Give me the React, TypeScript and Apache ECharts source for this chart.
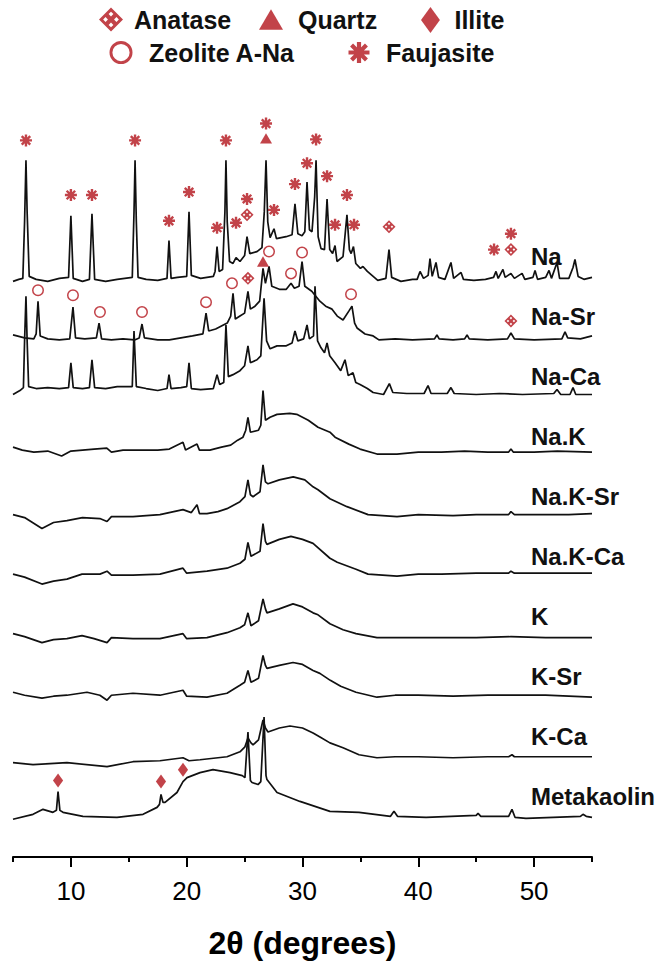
import React, { useEffect, useRef } from "react";
import * as echarts from "echarts";

// XRD patterns: [2θ (degrees), stacked intensity (a.u.)]
const NA = [
  [5.0,580],[5.5,582],[5.85,583],[6.0,640],[6.12,702],[6.22,650],[6.4,585],[7.0,582],[8.0,580],[9.0,583],[9.8,584],[10.0,646],[10.2,583],[11.0,580],[11.6,582],[11.82,648],[12.05,582],[13.0,580],[14.0,582],[15.3,584],[15.45,650],[15.54,702],[15.65,640],[15.8,584],[16.5,582],[17.5,581],[18.3,583],[18.47,621],[18.65,583],[19.2,584],[20.0,585],[20.2,650],[20.4,586],[21.2,583],[22.3,585],[22.45,590],[22.62,615],[22.8,590],[23.1,592],[23.3,650],[23.39,702],[23.5,640],[23.7,600],[24.0,598],[24.26,604],[24.6,600],[25.0,606],[25.21,625],[25.45,608],[26.07,610],[26.5,614],[26.7,650],[26.85,702],[27.0,640],[27.2,624],[27.54,633],[27.75,623],[28.58,625],[29.1,627],[29.35,658],[29.6,628],[29.96,626],[30.2,630],[30.39,680],[30.6,632],[30.82,630],[31.05,665],[31.17,702],[31.35,625],[31.6,613],[31.9,612],[32.12,663],[32.35,612],[32.6,608],[32.81,616],[32.98,600],[33.5,605],[33.84,647],[34.05,612],[34.2,608],[34.4,615],[34.6,598],[35.0,593],[35.22,595],[35.6,590],[36.5,581],[37.2,583],[37.47,612],[37.7,584],[38.5,580],[39.5,582],[39.9,582],[40.15,590],[40.45,583],[40.85,586],[41.01,603],[41.2,585],[41.53,599],[41.75,584],[42.3,582],[42.82,599],[43.05,583],[43.69,589],[43.9,582],[44.8,581],[45.8,582],[46.5,584],[46.71,590],[46.9,583],[47.31,592],[47.5,584],[48.0,588],[48.3,583],[48.96,588],[49.2,582],[49.9,584],[50.08,591],[50.3,582],[51.0,584],[51.29,591],[51.5,583],[51.98,599],[52.2,583],[53.0,583],[53.36,594],[53.53,602],[53.8,585],[54.3,582],[55.0,584]
];
const NA_SR = [
  [5.0,526],[6.0,523],[6.8,522],[7.0,527],[7.16,560],[7.35,525],[8.0,522],[9.0,521],[9.9,522],[10.18,554],[10.4,523],[11.2,522],[12.2,523],[12.43,538],[12.65,522],[13.5,521],[14.5,522],[15.5,521],[15.9,523],[16.14,537],[16.35,523],[17.5,521],[18.5,521],[19.5,523],[20.5,525],[21.4,527],[21.67,548],[21.9,530],[22.5,532],[23.0,535],[23.5,538],[23.8,545],[24.0,568],[24.2,542],[24.6,545],[25.0,548],[25.29,570],[25.5,552],[25.9,555],[26.3,560],[26.59,593],[26.8,578],[27.11,595],[27.35,575],[28.0,572],[28.6,572],[29.01,578],[29.3,573],[29.7,575],[29.96,600],[30.2,575],[30.8,570],[31.5,560],[32.0,555],[32.55,552],[33.0,545],[33.5,541],[34.0,550],[34.27,555],[34.5,538],[34.71,533],[35.4,527],[36.1,525],[36.6,521],[38.0,522],[39.5,521],[41.4,522],[41.61,526],[41.8,522],[43.0,521],[44.0,522],[44.21,526],[44.4,522],[46.0,521],[47.7,522],[48.0,528],[48.3,522],[50.0,521],[52.4,522],[52.67,529],[52.9,523],[54.0,522],[55.0,525]
];
const NA_CA = [
  [5.0,466],[5.6,470],[5.9,473],[6.0,520],[6.12,565],[6.22,520],[6.35,474],[7.0,472],[8.0,473],[9.0,472],[9.8,473],[10.0,498],[10.2,473],[11.0,472],[11.6,473],[11.82,501],[12.05,473],[13.0,472],[14.0,474],[15.3,474],[15.45,530],[15.65,474],[16.5,472],[17.5,470],[18.3,472],[18.47,486],[18.65,472],[19.5,473],[20.0,474],[20.2,498],[20.4,472],[21.2,471],[22.3,472],[22.62,486],[22.85,476],[23.2,478],[23.39,536],[23.6,484],[24.0,486],[24.6,490],[25.0,495],[25.29,515],[25.5,498],[26.07,501],[26.4,505],[26.68,563],[26.9,520],[27.2,512],[27.8,515],[28.6,515],[29.1,518],[29.35,530],[29.6,520],[30.1,522],[30.39,536],[30.6,522],[30.95,525],[31.08,575],[31.3,520],[31.6,513],[31.9,508],[32.12,518],[32.35,505],[32.81,498],[33.3,490],[33.67,501],[33.95,485],[34.36,488],[34.6,478],[34.97,476],[35.6,472],[36.1,468],[37.0,466],[37.5,477],[37.8,468],[39.0,467],[40.5,467],[40.84,475],[41.1,467],[42.5,467],[42.82,473],[43.1,467],[45.0,466],[47.0,467],[49.0,466],[51.7,467],[51.98,471],[52.3,466],[53.1,466],[53.36,473],[53.6,466],[55.0,466]
];
const NA_K = [
  [5.0,413],[5.8,410],[6.8,408],[8.0,409],[9.2,404],[10.0,409],[11.0,410],[12.0,411],[13.1,412],[13.5,408],[14.5,410],[16.0,410],[17.5,410],[18.5,411],[19.68,418],[19.9,410],[20.89,416],[21.1,410],[22.0,410],[23.0,413],[23.8,415],[24.4,420],[24.86,423],[25.1,430],[25.29,443],[25.5,428],[26.2,430],[26.4,435],[26.59,470],[26.8,440],[27.2,443],[27.8,446],[28.9,447],[29.5,446],[30.5,440],[31.34,433],[32.37,428],[32.81,423],[34.0,416],[34.97,411],[36.43,406],[38.16,406],[40.0,408],[42.0,408],[44.0,409],[46.0,408],[47.8,408],[48.0,411],[48.2,408],[50.0,408],[52.0,409],[55.0,408]
];
const NA_K_SR = [
  [5.0,345],[6.0,342],[7.5,331],[8.5,337],[9.66,339],[11.0,342],[12.5,341],[13.12,338],[13.5,343],[15.36,343],[16.5,344],[17.69,345],[19.68,350],[20.4,347],[20.89,355],[21.1,346],[21.75,346],[22.7,348],[23.48,351],[24.6,358],[25.03,363],[25.29,380],[25.5,365],[25.73,363],[26.33,368],[26.59,395],[26.8,378],[27.02,376],[28.0,380],[29.2,383],[30.2,380],[30.91,373],[31.34,370],[32.37,361],[33.84,353],[35.66,345],[38.16,343],[40.0,345],[43.0,344],[45.0,345],[47.8,345],[48.0,348],[48.3,345],[51.0,345],[53.0,345],[55.0,346]
];
const NA_K_CA = [
  [5.0,285],[6.0,282],[7.5,275],[8.5,278],[9.66,280],[10.96,285],[12.51,285],[13.12,288],[13.5,284],[15.36,284],[17.69,285],[19.68,291],[20.0,286],[21.75,288],[23.48,291],[24.6,296],[25.03,300],[25.29,317],[25.55,303],[26.33,308],[26.59,336],[26.8,318],[26.93,315],[28.0,320],[29.0,323],[30.0,320],[30.91,316],[32.37,301],[33.0,297],[34.62,290],[35.66,285],[38.16,283],[40.0,285],[42.0,285],[45.0,286],[47.8,286],[48.0,288],[48.3,286],[51.0,286],[55.0,286]
];
const K = [
  [5.0,225],[6.0,222],[7.5,216],[8.5,219],[9.66,220],[10.96,223],[12.0,220],[13.12,216],[13.5,221],[15.36,220],[17.69,220],[19.68,225],[20.0,220],[21.75,221],[23.48,226],[24.6,231],[25.0,234],[25.29,246],[25.55,233],[26.2,238],[26.59,260],[26.8,250],[26.93,246],[28.0,250],[29.18,255],[30.0,252],[30.91,246],[31.34,244],[32.37,235],[33.5,229],[34.62,225],[36.43,221],[38.0,221],[40.0,221],[42.0,221],[45.0,221],[48.0,222],[51.0,221],[55.0,221]
];
const K_SR = [
  [5.0,166],[6.0,163],[7.5,160],[8.5,162],[9.66,163],[11.39,166],[12.5,163],[13.12,158],[13.5,163],[15.36,165],[17.69,163],[19.68,168],[20.0,162],[21.75,161],[23.48,165],[24.6,173],[25.0,176],[25.29,188],[25.55,176],[26.2,180],[26.59,203],[26.8,193],[26.93,190],[28.0,193],[29.18,196],[30.0,194],[30.91,188],[31.5,185],[32.4,178],[33.3,172],[34.62,166],[36.43,161],[38.0,163],[40.0,163],[43.0,162],[46.0,163],[48.0,163],[51.0,163],[55.0,161]
];
const K_CA = [
  [5.0,95],[6.73,93],[9.66,95],[13.12,91],[15.36,96],[17.69,97],[19.68,100],[20.2,97],[21.15,98],[23.48,101],[24.6,106],[25.03,111],[25.29,120],[25.55,115],[25.73,113],[26.2,118],[26.59,138],[26.8,130],[27.02,126],[28.0,130],[28.92,132],[30.0,130],[30.91,125],[31.51,121],[32.37,115],[33.5,110],[34.88,103],[36.43,100],[38.0,101],[40.0,101],[43.0,100],[46.0,101],[47.8,101],[48.09,103],[48.3,101],[51.0,101],[55.0,101]
];
const METAKAOLIN = [
  [5.0,38],[6.73,43],[7.59,48],[8.45,45],[8.75,47],[8.89,66],[9.05,47],[9.32,45],[11.04,41],[13.98,40],[16.23,43],[17.44,50],[17.65,53],[17.78,63],[17.95,55],[18.13,55],[19.16,65],[19.68,76],[20.03,80],[21.15,85],[22.27,88],[23.74,85],[24.8,82],[25.03,80],[25.29,126],[25.5,77],[25.64,75],[26.16,73],[26.4,76],[26.68,141],[26.85,82],[26.93,78],[27.8,65],[29.78,56],[32.37,46],[34.88,45],[37.6,41],[37.9,46],[38.2,41],[40.67,40],[45.0,42],[45.16,44],[45.4,41],[47.8,41],[48.09,48],[48.35,40],[49.3,39],[54.0,41],[54.22,43],[54.5,41],[55.0,40]
];

// Phase markers: [2θ, intensity]
const FAUJASITE = [[6.12,722],[10.0,667],[11.82,667],[15.54,722],[18.47,641],[20.2,670],[22.62,634],[23.39,722],[24.26,639],[25.21,663],[26.85,739],[27.54,652],[29.35,678],[30.39,699],[31.17,723],[32.12,686],[32.81,637],[33.84,667],[34.45,637],[46.54,612],[48.0,628]];
const ANATASE = [[25.21,647],[37.47,635],[48.0,612],[25.29,583],[48.0,540]];
const QUARTZ = [[26.85,724],[26.59,600]];
const ILLITE = [[8.89,77],[17.78,76],[19.68,88]];
const ZEOLITE = [[7.16,571],[10.18,566],[12.51,549],[16.14,549],[21.67,559],[23.91,578],[27.11,610],[29.01,588],[29.96,609],[34.19,567]];

const SAMPLE_NAMES = ["Na", "Na-Sr", "Na-Ca", "Na.K", "Na.K-Sr", "Na.K-Ca", "K", "K-Sr", "K-Ca", "Metakaolin"];
const SAMPLE_DATA = [NA, NA_SR, NA_CA, NA_K, NA_K_SR, NA_K_CA, K, K_SR, K_CA, METAKAOLIN];
const MAJOR_TICKS = [10, 20, 30, 40, 50];
const MINOR_TICKS = [5, 15, 25, 35, 45, 55];

const RED = "#b3141c";
const FONT = '"Liberation Sans", Arial, Helvetica, sans-serif';

const P_ANATASE = "path://M0,-11L11,0L0,11L-11,0ZM0,-7.2L-2.2,-5L0,-2.8L2.2,-5ZM5,-2.2L2.8,0L5,2.2L7.2,0ZM-5,-2.2L-7.2,0L-5,2.2L-2.8,0ZM0,2.8L-2.2,5L0,7.2L2.2,5Z";
const P_TRI = "path://M0,-10L11,9L-11,9Z";
const P_DIAMOND = "path://M0,-11L8,0L0,11L-8,0Z";
const P_RING = "path://M-10,0A10,10,0,1,1,10,0A10,10,0,1,1,-10,0ZM-7.5,0A7.5,7.5,0,1,0,7.5,0A7.5,7.5,0,1,0,-7.5,0Z";
const P_STAR = "path://M-10,-2L10,-2L10,2L-10,2ZM-2,-10L2,-10L2,10L-2,10ZM-5.66,-8.49L8.49,5.66L5.66,8.49L-8.49,-5.66ZM5.66,-8.49L8.49,-5.66L-5.66,8.49L-8.49,5.66Z";

export default function App() {
  const ref = useRef<HTMLDivElement>(null);
  useEffect(() => {
    document.body.style.margin = "0";
    if (!ref.current) return;
    const chart = echarts.init(ref.current, null, { renderer: "svg" });

    const mkLegend = (name: string, icon: string, cx: number, cy: number, size: number, textStart: number) => ({
      data: [{ name, icon }],
      left: cx - size / 2,
      top: cy - 14,
      itemWidth: size,
      itemHeight: size,
      itemGap: 0,
      padding: 0,
      selectedMode: false,
      textStyle: {
        fontSize: 25,
        fontWeight: "bold",
        color: "#111",
        fontFamily: FONT,
        padding: [0, 0, 0, Math.max(0, textStart - (cx + size / 2 + 5))],
      },
    });

    const lineSeries = SAMPLE_DATA.map((d, i) => ({
      type: "line",
      name: SAMPLE_NAMES[i],
      data: d,
      symbol: "none",
      showSymbol: false,
      silent: true,
      z: 2,
      lineStyle: { color: "#111", width: 1.7 },
    }));

    const mkScatter = (name: string, data: number[][], symbol: string, size: number) => ({
      type: "scatter",
      name,
      data,
      symbol,
      symbolSize: size,
      symbolKeepAspect: true,
      silent: true,
      z: 5,
      itemStyle: { color: RED },
    });

    chart.setOption({
      animation: false,
      backgroundColor: "#ffffff",
      legend: [
        mkLegend("Anatase", P_ANATASE, 111, 21, 24, 134),
        mkLegend("Quartz", P_TRI, 271, 21, 24, 298),
        mkLegend("Illite", P_DIAMOND, 434, 21, 26, 458),
        mkLegend("Zeolite A-Na", P_RING, 121, 54, 23, 149),
        mkLegend("Faujasite", P_STAR, 359, 54, 21, 386),
      ],
      grid: { left: 13, right: 64, top: 63, bottom: 101, containLabel: false },
      xAxis: [
        {
          type: "value",
          min: 5,
          max: 55,
          position: "bottom",
          name: "2θ (degrees)",
          nameLocation: "middle",
          nameGap: 70,
          nameTextStyle: { fontSize: 32, fontWeight: "bold", color: "#000", fontFamily: FONT },
          axisLine: { show: true, lineStyle: { color: "#000", width: 2 } },
          axisTick: { show: true, customValues: MAJOR_TICKS, length: 10, lineStyle: { color: "#000", width: 2 } },
          axisLabel: { customValues: MAJOR_TICKS, fontSize: 26, color: "#000", margin: 21, fontFamily: FONT },
          splitLine: { show: false },
        },
        {
          type: "value",
          min: 5,
          max: 55,
          position: "bottom",
          axisLine: { show: false },
          axisTick: { show: true, customValues: MINOR_TICKS, length: 5, lineStyle: { color: "#000", width: 2 } },
          axisLabel: { show: false },
          splitLine: { show: false },
        },
      ],
      yAxis: { type: "value", min: 0, max: 800, show: false },
      series: [
        ...lineSeries,
        mkScatter("Faujasite", FAUJASITE, P_STAR, 12),
        mkScatter("Anatase", ANATASE, P_ANATASE, 13),
        mkScatter("Quartz", QUARTZ, P_TRI, 12),
        mkScatter("Illite", ILLITE, P_DIAMOND, 14),
        mkScatter("Zeolite A-Na", ZEOLITE, P_RING, 12),
      ],
      graphic: SAMPLE_NAMES.map((n, i) => ({
        type: "text",
        x: 531,
        y: 256 + i * 60,
        silent: true,
        style: {
          text: n,
          fill: "#111",
          font: `bold 24px ${FONT}`,
          verticalAlign: "middle",
          align: "left",
        },
      })),
    });
    return () => chart.dispose();
  }, []);
  return <div ref={ref} style={{ position: "absolute", left: 0, top: 0, width: 656, height: 964 }} />;
}
